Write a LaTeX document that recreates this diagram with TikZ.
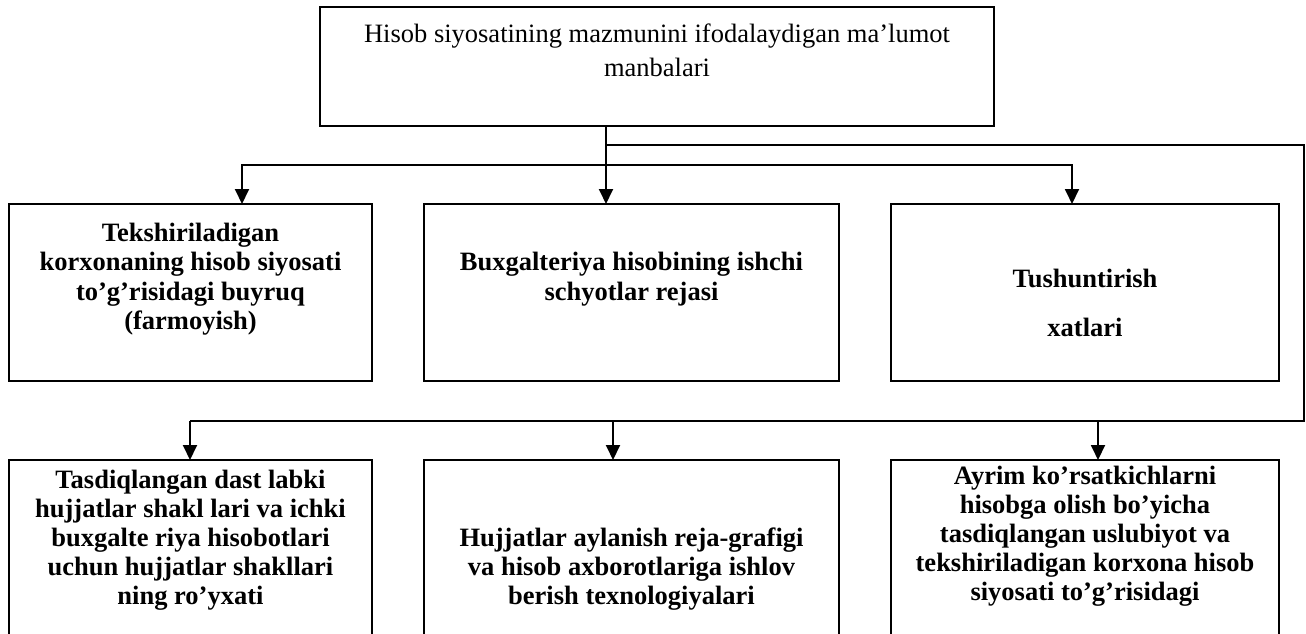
\documentclass[tikz,border=0pt]{standalone}
\usepackage{fontspec}
\setmainfont{Liberation Serif}
\usetikzlibrary{positioning,arrows.meta}

\begin{document}
\begin{tikzpicture}[x=1pt,y=-1pt,>={Triangle[length=15pt,width=14pt]},
  box/.style={draw,line width=1.7pt,inner sep=0pt,outer sep=0pt},
  rowbox/.style={box,minimum height=177pt},
  lowbox/.style={box,minimum height=200pt},
  boxtext/.style={inner sep=0pt,align=center,font=\bfseries\fontsize{26.5}{29.5}\selectfont},
  lowtext/.style={boxtext,font=\bfseries\fontsize{26.5}{29}\selectfont},
  link/.style={line width=1.9pt},
  looplink/.style={line width=1.5pt}]
  \useasboundingbox (0,0) rectangle (1306,634);
  \clip (0,0) rectangle (1306,634);

  % source box
  \node[box,minimum width=674pt,minimum height=119pt] (manba) at (657,66.5) {};
  \node[inner sep=0pt,align=center,font=\fontsize{26.5}{34}\selectfont,
    below=16.5pt of manba.north] (manba-t)
    {Hisob siyosatining mazmunini ifodalaydigan ma’lumot\\manbalari};

  % first row
  \node[rowbox,minimum width=363pt] (buyruq) at (190.5,292.5) {};
  \node[rowbox,minimum width=415pt] (ishchi) at (631.5,292.5) {};
  \node[rowbox,minimum width=388pt] (xat) at (1085,292.5) {};
  \node[boxtext,below=18.5pt of buyruq.north] (buyruq-t)
    {Tekshiriladigan\\korxonaning hisob siyosati\\to’g’risidagi buyruq\\(farmoyish)};
  \node[boxtext,below=48pt of ishchi.north] (ishchi-t)
    {Buxgalteriya hisobining ishchi\\schyotlar rejasi};
  \node[boxtext,font=\bfseries\fontsize{26.5}{49}\selectfont,
    below=64.5pt of xat.north] (xat-t) {Tushuntirish\\xatlari};

  % second row (cut by the page edge)
  \node[lowbox,minimum width=363pt] (shakl) at (190.5,560) {};
  \node[lowbox,minimum width=415pt] (grafik) at (631.5,560) {};
  \node[lowbox,minimum width=388pt] (uslub) at (1085,560) {};
  \node[lowtext,below=10pt of shakl.north] (shakl-t)
    {Tasdiqlangan dast labki\\hujjatlar shakl lari va ichki\\buxgalte riya hisobotlari\\uchun hujjatlar shakllari\\ning ro’yxati};
  \node[lowtext,below=68pt of grafik.north] (grafik-t)
    {Hujjatlar aylanish reja-grafigi\\va hisob axborotlariga ishlov\\berish texnologiyalari};
  \node[lowtext,below=6pt of uslub.north] (uslub-t)
    {Ayrim ko’rsatkichlarni\\hisobga olish bo’yicha\\tasdiqlangan uslubiyot va\\tekshiriladigan korxona hisob\\siyosati to’g’risidagi};

  % connectors
  \coordinate (bus1a) at (242,165);
  \coordinate (bus1b) at (606,165);
  \coordinate (bus1c) at (1072,165);
  \coordinate (loop) at (606,145);
  \coordinate (loopNE) at (1304,145);
  \coordinate (loopSE) at (1304,421);
  \coordinate (bus2a) at (190,421);
  \coordinate (bus2b) at (613,421);
  \coordinate (bus2c) at (1098,421);

  \draw[link,->] (manba.south -| bus1b) -- (bus1b |- ishchi.north);
  \draw[link,<->] (bus1a |- buyruq.north) -- (bus1a) -- (bus1c) -- (bus1c |- xat.north);
  \draw[looplink] (loop) -- (loopNE) -- (loopSE) -- (bus2a);
  \draw[link,->] (bus2a) -- (bus2a |- shakl.north);
  \draw[link] (bus2a) -- (bus2c);
  \draw[link,->] (bus2b) -- (bus2b |- grafik.north);
  \draw[link,->] (bus2c) -- (bus2c |- uslub.north);
\end{tikzpicture}
\end{document}
